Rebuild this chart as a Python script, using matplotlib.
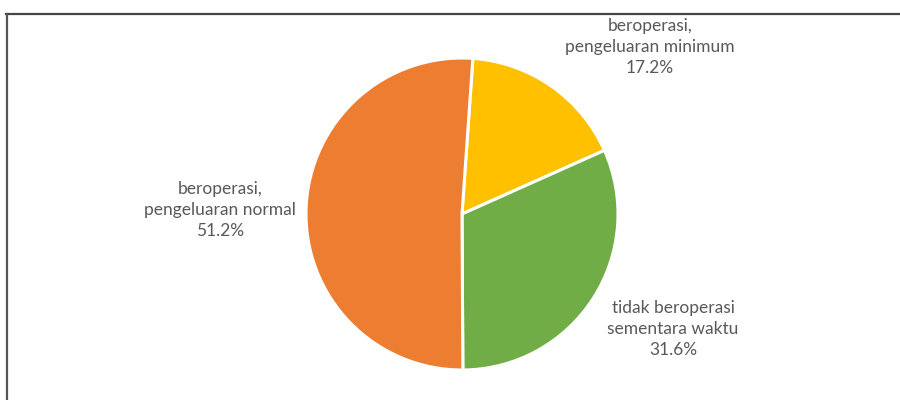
import matplotlib.pyplot as plt
from matplotlib.lines import Line2D

# data
categories = [
    "beroperasi,\npengeluaran minimum",
    "tidak beroperasi\nsementara waktu",
    "beroperasi,\npengeluaran normal",
]
shares = [17.2, 31.6, 51.2]
colors = ["#FFC000", "#70AD47", "#ED7D31"]

# layout (pixels, y measured from the bottom)
center = (462, 186)
radius = 156
label_pos = [(650, 353), (673, 71), (220, 190)]

fig = plt.figure(figsize=(9, 4), dpi=100)
ax = fig.add_axes([0, 0, 1, 1])

ax.pie(shares, colors=colors, startangle=86, counterclock=False,
       center=center, radius=radius,
       wedgeprops=dict(edgecolor="white", linewidth=2.2))
ax.set_xlim(0, 900)
ax.set_ylim(0, 400)
ax.set_aspect("auto")
ax.axis("off")

for cat, val, (x, y) in zip(categories, shares, label_pos):
    ax.text(x, y, f"{cat}\n{val:.1f}%", ha="center", va="center",
            fontsize=12.5, color="#595959", family="Lato", linespacing=1.4)

# chart frame (top and left edges visible)
fig.add_artist(Line2D([6 / 900, 1], [1 - 13.5 / 400] * 2, transform=fig.transFigure,
                      color="#444444", linewidth=1.6))
fig.add_artist(Line2D([6.5 / 900] * 2, [0, 1 - 13.5 / 400], transform=fig.transFigure,
                      color="#555555", linewidth=1.6))

plt.savefig("out.png", dpi=100)
